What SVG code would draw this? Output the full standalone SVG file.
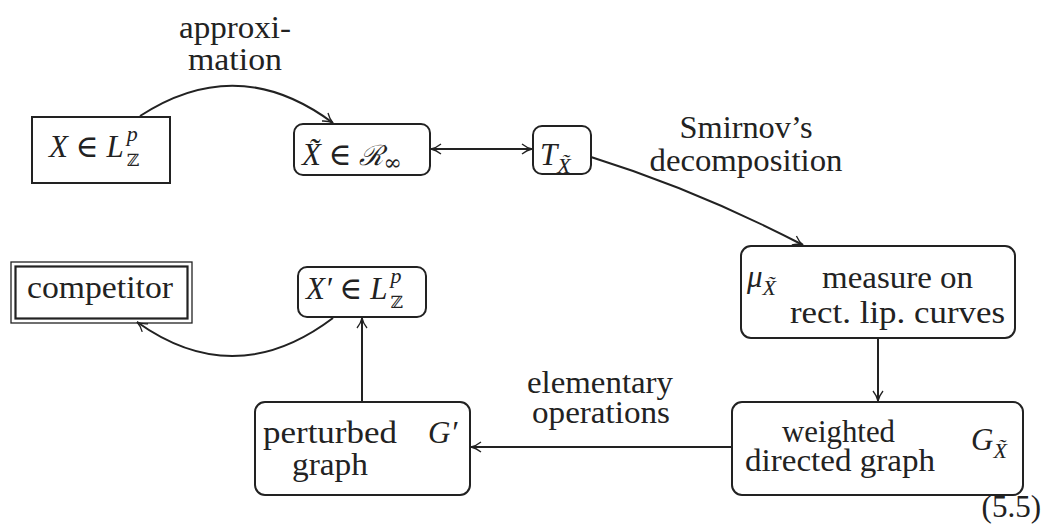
<svg xmlns="http://www.w3.org/2000/svg" width="1045" height="525" viewBox="0 0 1045 525" font-family="'Liberation Serif', 'DejaVu Serif', serif">
<style>
text{font-size:31px;fill:#222}
.i{font-style:italic}
.s{font-size:22px}
.z{font-family:'DejaVu Serif',serif;font-size:17px}
.box{fill:none;stroke:#222;stroke-width:2}
.c{fill:none;stroke:#222;stroke-width:2}
</style>
<defs>
<marker id="ah" viewBox="0 0 12 12" refX="11" refY="6" markerWidth="12" markerHeight="12" markerUnits="userSpaceOnUse" orient="auto-start-reverse">
<path d="M1,1 Q6,5 11,6 Q6,7 1,11" fill="none" stroke="#222" stroke-width="1.3"/>
</marker>
</defs>
<g id="connectors">
<path class="c" d="M140,116 Q238,52 333,123" marker-end="url(#ah)"/>
<path class="c" d="M431,149 L532,149" marker-start="url(#ah)" marker-end="url(#ah)"/>
<path class="c" d="M591,157 Q697,190 803,245" marker-end="url(#ah)"/>
<path class="c" d="M878,338 L878,401" marker-end="url(#ah)"/>
<path class="c" d="M732,447 L471,447" marker-end="url(#ah)"/>
<path class="c" d="M362,402 L362,318" marker-end="url(#ah)"/>
<path class="c" d="M333,318 Q235,392 137,322" marker-end="url(#ah)"/>
<text x="235" y="38" text-anchor="middle" textLength="112" lengthAdjust="spacingAndGlyphs">approxi-</text>
<text x="235" y="70" text-anchor="middle" textLength="94" lengthAdjust="spacingAndGlyphs">mation</text>
<text x="746" y="138" text-anchor="middle" textLength="133" lengthAdjust="spacingAndGlyphs">Smirnov’s</text>
<text x="746" y="171" text-anchor="middle" textLength="193" lengthAdjust="spacingAndGlyphs">decomposition</text>
<text x="600" y="393" text-anchor="middle" textLength="146" lengthAdjust="spacingAndGlyphs">elementary</text>
<text x="601" y="423" text-anchor="middle" textLength="138" lengthAdjust="spacingAndGlyphs">operations</text>
</g>
<g id="n1">
<rect class="box" x="32" y="117" width="138" height="66"/>
<text x="49" y="157"><tspan class="i">X</tspan> ∈ <tspan class="i">L</tspan><tspan class="s i" dx="3" dy="-16">p</tspan><tspan class="z" dx="-11" dy="25">ℤ</tspan></text>
</g>
<g id="n2">
<rect class="box" x="294" y="124" width="136" height="51" rx="9"/>
<text x="302" y="165"><tspan class="i">X̃</tspan> ∈ <tspan style="font-family:'DejaVu Serif',serif;font-style:italic;font-size:28px">ℛ</tspan><tspan dy="5" style="font-size:22px;font-family:'DejaVu Serif',serif">∞</tspan></text>
</g>
<g id="n3">
<rect class="box" x="533" y="126" width="58" height="48" rx="9"/>
<text x="540" y="165"><tspan class="i">T</tspan><tspan class="s i" dy="8">X̃</tspan></text>
</g>
<g id="n4">
<rect class="box" x="741" y="246" width="274" height="92" rx="10"/>
<text x="747" y="287"><tspan class="i">μ</tspan><tspan class="s i" dy="8">X̃</tspan></text>
<text x="822" y="288" textLength="151" lengthAdjust="spacingAndGlyphs">measure on</text>
<text x="790" y="323" textLength="215" lengthAdjust="spacingAndGlyphs">rect. lip. curves</text>
</g>
<g id="n5">
<rect class="box" x="732" y="402" width="291" height="93" rx="10"/>
<text x="782" y="442" textLength="113" lengthAdjust="spacingAndGlyphs">weighted</text>
<text x="745" y="471" textLength="190" lengthAdjust="spacingAndGlyphs">directed graph</text>
<text x="971" y="450"><tspan class="i">G</tspan><tspan class="s i" dy="8">X̃</tspan></text>
</g>
<g id="n6">
<rect class="box" x="255" y="402" width="215" height="93" rx="10"/>
<text x="263" y="443" textLength="134" lengthAdjust="spacingAndGlyphs">perturbed</text>
<text x="292" y="475" textLength="76" lengthAdjust="spacingAndGlyphs">graph</text>
<text x="428" y="443" class="i">G′</text>
</g>
<g id="n7">
<rect class="box" x="298" y="267" width="128" height="50" rx="9"/>
<text x="306" y="299"><tspan class="i">X′</tspan> ∈ <tspan class="i">L</tspan><tspan class="s i" dx="3" dy="-16">p</tspan><tspan class="z" dx="-11" dy="25">ℤ</tspan></text>
</g>
<g id="n8">
<rect x="11" y="262" width="181" height="61" fill="none" stroke="#222" stroke-width="1.3"/>
<rect x="15.5" y="266.5" width="172" height="52" fill="none" stroke="#222" stroke-width="2.2"/>
<text x="27" y="298" textLength="146" lengthAdjust="spacingAndGlyphs">competitor</text>
</g>
<text x="1041" y="517" text-anchor="end">(5.5)</text>
</svg>
